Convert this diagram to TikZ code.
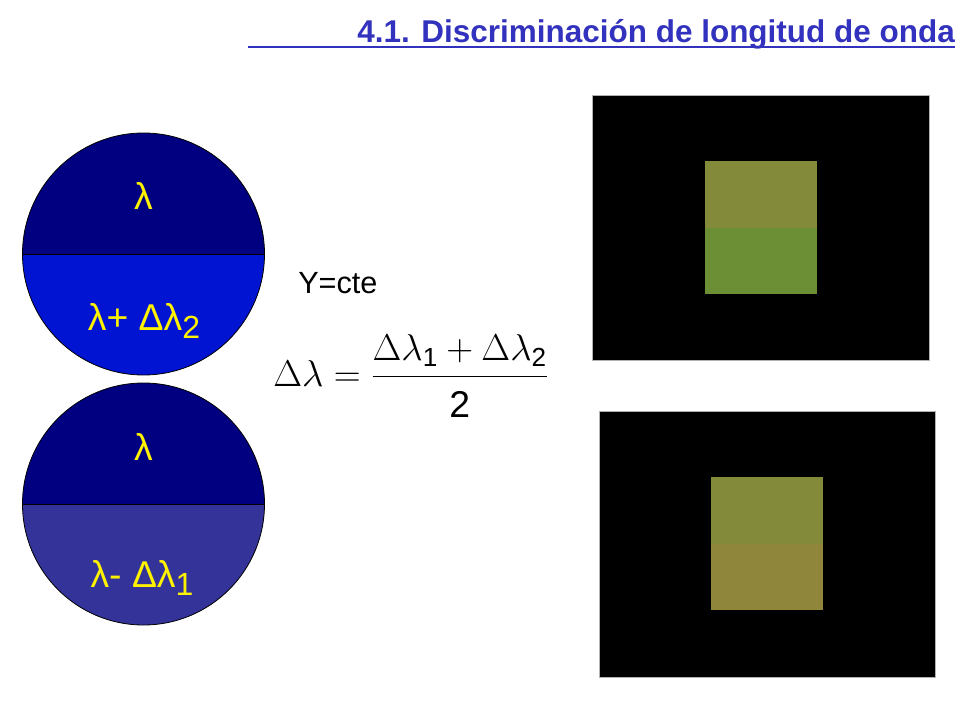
\documentclass[tikz,border=0pt]{standalone}
\usepackage{fix-cm}
\usepackage{amsmath}
\usepackage{fontspec}
\setmainfont{Liberation Sans}

\definecolor{titleblue}{RGB}{50,50,190}
\definecolor{navy}{RGB}{0,0,128}
\definecolor{brightblue}{RGB}{0,20,210}
\definecolor{slateblue}{RGB}{51,51,153}
\definecolor{olive}{RGB}{131,138,58}
\definecolor{greenish}{RGB}{108,142,52}
\definecolor{ochre}{RGB}{143,134,60}

\newcommand{\lsub}[1]{\raisebox{-6.5pt}{\fontsize{24}{24}\selectfont #1}}

\tikzset{
  lbl/.style={text=yellow, font=\fontsize{28}{32}\selectfont, inner sep=0pt, anchor=base},
  split/.style={black, line width=0.6pt}
}

\begin{document}
\begin{tikzpicture}[x=0.75pt,y=-0.75pt]
\useasboundingbox (0,0) rectangle (960,720);

% title
\node[anchor=base east, inner sep=0pt, text=titleblue, font=\fontsize{23.6}{28}\selectfont\bfseries] (title) at (955,43) {4.1. Discriminación de longitud de onda};
\coordinate (ul) at (248,47);
\draw[titleblue, line width=1.8pt] (ul) -- (ul -| title.east);

% upper circle
\begin{scope}
\clip (143.5,254) circle[radius=121];
\fill[navy] (20,130) rectangle (270,254);
\fill[brightblue] (20,254) rectangle (270,380);
\end{scope}
\draw[split] (22.5,254) -- (264.5,254);
\draw[black, line width=0.6pt] (143.5,254) circle[radius=121];

% lower circle
\begin{scope}
\clip (143.5,504) circle[radius=121];
\fill[navy] (20,380) rectangle (270,504);
\fill[slateblue] (20,504) rectangle (270,630);
\end{scope}
\draw[split] (22.5,504) -- (264.5,504);
\draw[black, line width=0.6pt] (143.5,504) circle[radius=121];

\node[lbl] (lamA) at (143.5,210) {λ};
\node[lbl] (lamplus) at (144,330) {λ+ Δλ\lsub{2}};
\node[lbl] (lamB) at (143.5,460) {λ};
\node[lbl] (lamminus) at (142,587) {λ- Δλ\lsub{1}};

% formula
\node[anchor=base west, inner sep=0pt, font=\fontsize{23}{27}\selectfont] (ycte) at (298,293) {Y=cte};
\node[anchor=base west, inner sep=0pt, font=\fontsize{28}{33}\selectfont] (formula) at (273,386)
  {$\Delta\lambda=\dfrac{\Delta\lambda_{\text{1}}+\Delta\lambda_{\text{2}}}{\rule{0pt}{27pt}\text{2}}$};

% upper field
\filldraw[fill=black, draw=gray!60, line width=0.5pt] (592,95) rectangle (929,360);
\fill[olive] (705,161) rectangle (817,228);
\fill[greenish] (705,228) rectangle (817,294);

% lower field
\filldraw[fill=black, draw=gray!60, line width=0.5pt] (599,411) rectangle (935,677);
\fill[olive] (711,477) rectangle (823,544);
\fill[ochre] (711,544) rectangle (823,610);

\end{tikzpicture}
\end{document}
